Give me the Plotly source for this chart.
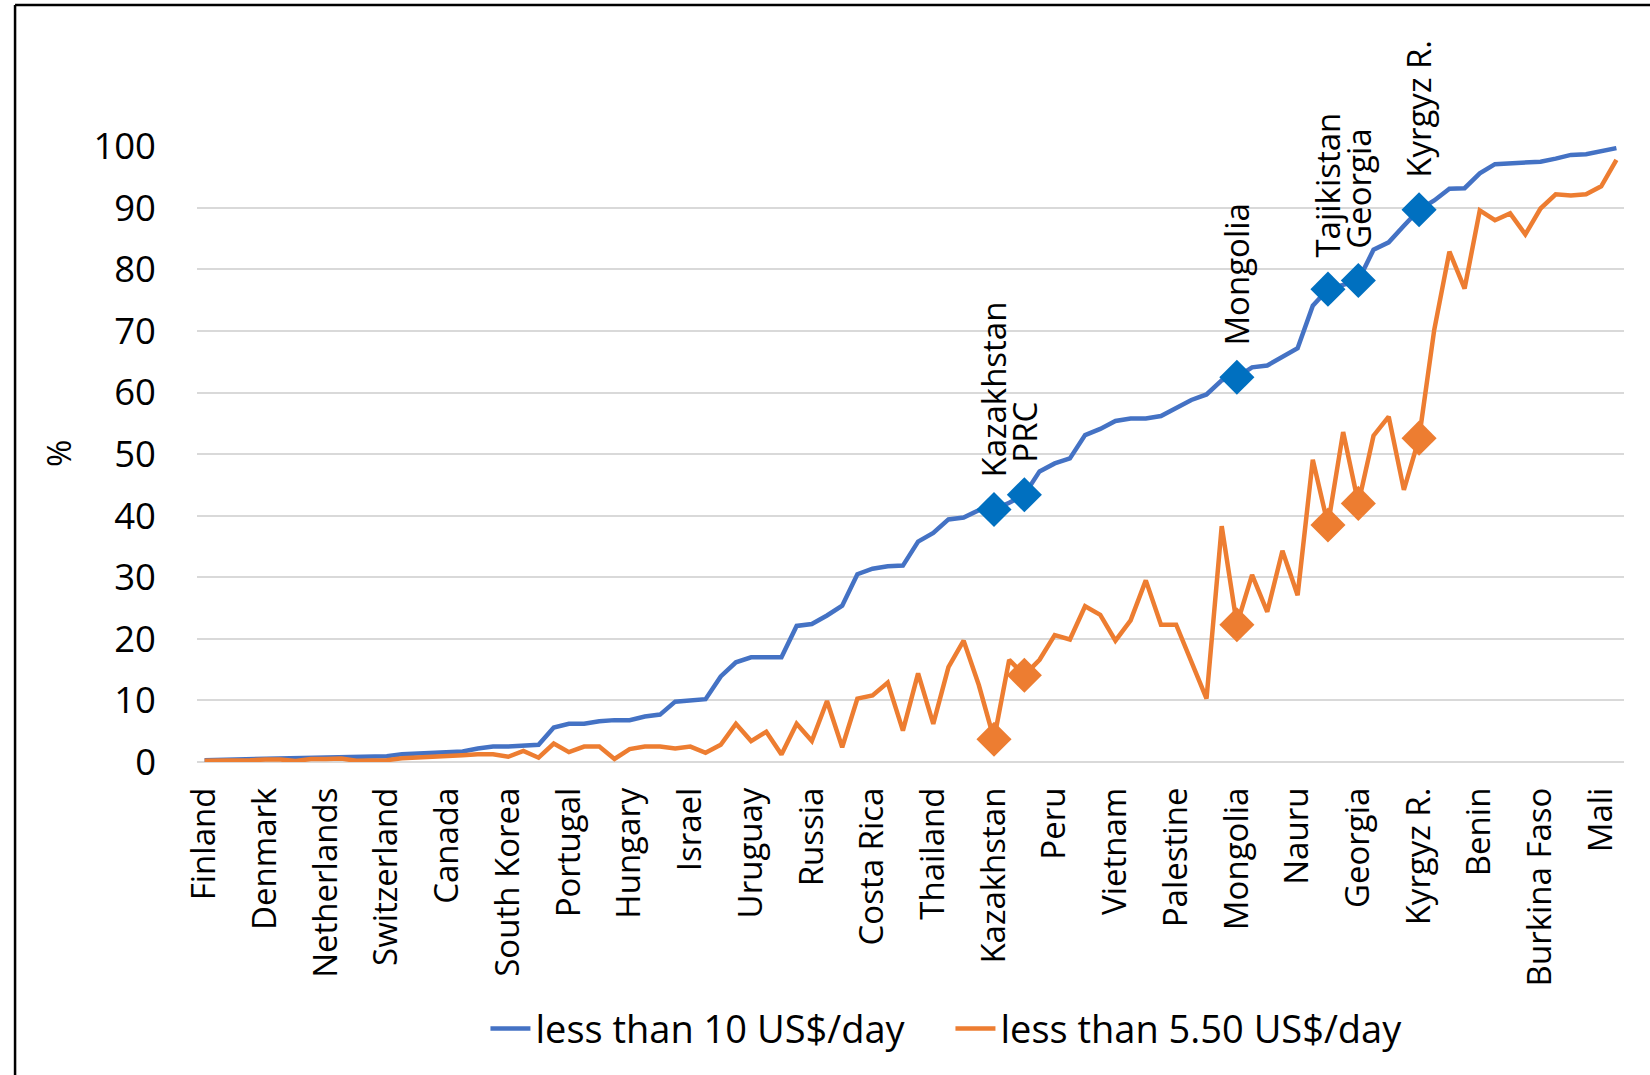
import plotly.graph_objects as go

# ---- data ----
tick_labels = ["Finland", "Denmark", "Netherlands", "Switzerland", "Canada", "South Korea",
               "Portugal", "Hungary", "Israel", "Uruguay", "Russia", "Costa Rica", "Thailand",
               "Kazakhstan", "Peru", "Vietnam", "Palestine", "Mongolia", "Nauru", "Georgia",
               "Kyrgyz R.", "Benin", "Burkina Faso", "Mali"]
tick_positions = [0, 4, 8, 12, 16, 20, 24, 28, 32, 36, 40, 44, 48, 52, 56, 60, 64, 68, 72, 76, 80, 84, 88, 92]

less_than_10 = [0.3, 0.35, 0.4, 0.45, 0.5, 0.55, 0.6, 0.65, 0.7, 0.75,
                0.8, 0.85, 0.95, 1.25, 1.4, 1.5, 1.6, 1.7, 2.2, 2.5,
                2.5, 2.7, 2.8, 5.6, 6.2, 6.2, 6.6, 6.8, 6.8, 7.4,
                7.7, 9.8, 10.0, 10.2, 13.9, 16.2, 17.0, 17.0, 17.0, 22.1,
                22.4, 23.8, 25.4, 30.5, 31.4, 31.8, 31.9, 35.8, 37.2, 39.4,
                39.7, 40.9, 41.0, 42.1, 43.4, 47.2, 48.5, 49.3, 53.1, 54.1,
                55.4, 55.8, 55.8, 56.2, 57.6, 58.8, 59.7, 62.0, 62.5, 64.1,
                64.4, 65.7, 67.2, 74.1, 76.8, 77.5, 78.2, 83.2, 84.4, 87.1,
                89.7, 91.2, 93.1, 93.2, 95.6, 97.1, 97.2, 97.3, 97.5, 98.0,
                98.6, 98.7, 99.2, 99.7]

less_than_5_50 = [0.2, 0.2, 0.25, 0.3, 0.4, 0.4, 0.15, 0.5, 0.5, 0.55,
                  0.2, 0.2, 0.3, 0.6, 0.7, 0.85, 0.85, 1.1, 1.25, 1.25,
                  0.85, 1.8, 0.7, 3.0, 1.6, 2.5, 2.5, 0.5, 2.1, 2.5,
                  2.5, 2.2, 2.5, 1.5, 2.8, 6.2, 3.4, 4.9, 1.2, 6.2,
                  3.4, 9.9, 2.4, 10.3, 10.8, 12.9, 5.1, 14.4, 6.2, 15.4,
                  19.7, 12.5, 3.7, 16.6, 14.1, 16.6, 20.6, 19.9, 25.3, 23.9,
                  19.7, 23.0, 29.5, 22.3, 22.3, 16.3, 10.3, 38.3, 22.3, 30.4,
                  24.4, 34.3, 27.1, 49.1, 38.5, 53.6, 42.0, 53.0, 56.1, 44.2,
                  52.6, 70.2, 82.9, 76.9, 89.6, 88.0, 89.1, 85.7, 89.9, 92.2,
                  92.0, 92.2, 93.5, 97.8]

highlight_idx = [52, 54, 68, 74, 76, 80]
highlight_names = ["Kazakhstan", "PRC", "Mongolia", "Tajikistan", "Georgia", "Kyrgyz R."]

y_ticks = [0, 10, 20, 30, 40, 50, 60, 70, 80, 90, 100]

# ---- styles ----
FONT = "Open Sans"
BLUE_LINE = "#4472C4"
BLUE_MARK = "#0070C0"
ORANGE = "#ED7D31"
GRID = "#D9D9D9"

x = list(range(len(less_than_10)))

fig = go.Figure()
fig.add_trace(go.Scatter(x=x, y=less_than_10, mode="lines", name="less than 10 US$/day",
                         line=dict(color=BLUE_LINE, width=4.5)))
fig.add_trace(go.Scatter(x=x, y=less_than_5_50, mode="lines", name="less than 5.50 US$/day",
                         line=dict(color=ORANGE, width=4.5)))
fig.add_trace(go.Scatter(x=highlight_idx, y=[less_than_10[i] for i in highlight_idx],
                         mode="markers", showlegend=False,
                         marker=dict(symbol="diamond", size=27, color=BLUE_MARK)))
fig.add_trace(go.Scatter(x=highlight_idx, y=[less_than_5_50[i] for i in highlight_idx],
                         mode="markers", showlegend=False,
                         marker=dict(symbol="diamond", size=27, color=ORANGE)))

annotations = []
for i, name in zip(highlight_idx, highlight_names):
    annotations.append(dict(x=i, y=less_than_10[i], xref="x", yref="y", text=name,
                            textangle=-90, showarrow=False, xanchor="center", yanchor="bottom",
                            yshift=30, font=dict(family=FONT, size=33, color="black")))
annotations.append(dict(x=-0.0974, y=0.5, xref="paper", yref="paper", text="%",
                        textangle=-90, showarrow=False, xanchor="center", yanchor="middle",
                        font=dict(family=FONT, size=33, color="black")))

shapes = [
    dict(type="line", xref="paper", yref="paper", x0=-0.1275, x1=-0.1275, y0=-0.6, y1=1.2289,
         line=dict(color="black", width=2.5)),
    dict(type="line", xref="paper", yref="paper", x0=-0.1275, x1=1.1, y0=1.2289, y1=1.2289,
         line=dict(color="black", width=2.5)),
]

fig.update_layout(
    width=1650, height=1075,
    margin=dict(l=197, r=26, t=146, b=313),
    paper_bgcolor="white", plot_bgcolor="white",
    font=dict(family=FONT, size=33, color="black"),
    showlegend=True,
    legend=dict(orientation="h", x=0.528, y=-0.433, xanchor="center", yanchor="middle",
                font=dict(family=FONT, size=38, color="black"), itemwidth=40,
                entrywidth=410, entrywidthmode="pixels",
                bgcolor="rgba(0,0,0,0)"),
    annotations=annotations,
    shapes=shapes,
    xaxis=dict(range=[-0.5, 93.5], tickmode="array", tickvals=tick_positions, ticktext=tick_labels,
               tickangle=-90, showgrid=False, zeroline=False, showline=False, ticks="",
               ticklabelstandoff=18, tickfont=dict(family=FONT, size=33, color="black")),
    yaxis=dict(range=[0, 100.05], tickmode="array", tickvals=y_ticks, showgrid=True,
               gridcolor=GRID, gridwidth=1.5, zeroline=True, zerolinecolor=GRID, zerolinewidth=1.5,
               showline=False, ticks="", ticklabelstandoff=40,
               tickfont=dict(family=FONT, size=36.5, color="black")),
)

fig.write_html("out.html")
